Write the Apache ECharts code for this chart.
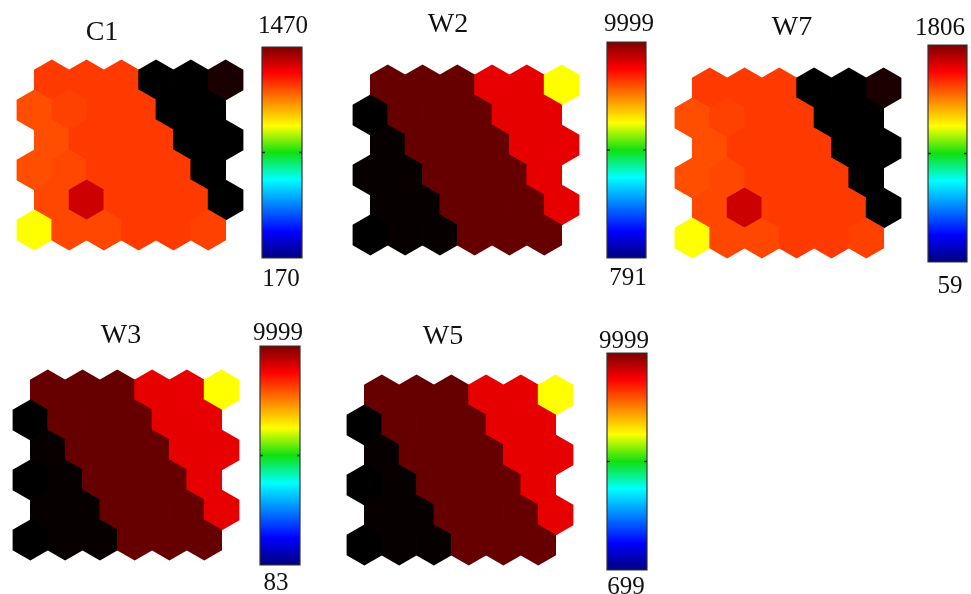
<!DOCTYPE html>
<html>
<head>
<meta charset="utf-8">
<script src="https://cdn.jsdelivr.net/npm/echarts@6/dist/echarts.min.js"></script>
<style>
  html, body { margin: 0; padding: 0; background: #fff; }
  #main { width: 971px; height: 594px; }
</style>
</head>
<body>
<div id="main"></div>
<script>
// panel names and colour bar limits
var panelNames = ['C1', 'W2', 'W7', 'W3', 'W5'];
var barMax = ['1470', '9999', '1806', '9999', '9999'];
var barMin = ['170', '791', '59', '83', '699'];

// cell values, 6 rows (top to bottom) x 6 columns, on a 0-100 "hot" scale
var valuesC1 = [
  [46, 46, 46, 0, 0, 4],
  [49, 47, 46, 46, 0, 0],
  [49, 46, 46, 46, 0, 0],
  [49, 48, 46, 46, 46, 0],
  [48, 30, 46, 46, 46, 0],
  [75, 48, 48, 46, 46, 47]
];
var valuesW2 = [
  [15, 15, 15, 34, 34, 75],
  [0, 15, 15, 15, 34, 34],
  [1, 15, 15, 15, 34, 34],
  [1, 1, 15, 15, 15, 34],
  [1, 1, 15, 15, 15, 34],
  [0, 1, 1, 15, 15, 15]
];
var valuesW7 = [
  [46, 46, 46, 0, 0, 4],
  [49, 47, 46, 46, 0, 0],
  [49, 46, 46, 46, 0, 0],
  [49, 48, 46, 46, 46, 0],
  [48, 30, 46, 46, 46, 0],
  [75, 48, 48, 46, 46, 47]
];
var valuesW3 = [
  [15, 15, 15, 34, 34, 75],
  [0, 15, 15, 15, 34, 34],
  [1, 15, 15, 15, 34, 34],
  [0, 1, 15, 15, 15, 34],
  [1, 1, 15, 15, 15, 34],
  [0, 1, 1, 15, 15, 15]
];
var valuesW5 = [
  [15, 15, 15, 34, 34, 75],
  [0, 15, 15, 15, 34, 34],
  [1, 15, 15, 15, 34, 34],
  [0, 1, 15, 15, 15, 34],
  [1, 1, 15, 15, 15, 34],
  [0, 1, 1, 15, 15, 15]
];
var panelValues = [valuesC1, valuesW2, valuesW7, valuesW3, valuesW5];

// layout (pixels)
var grids = [
  {left: 17, top: 60},
  {left: 353, top: 65},
  {left: 675, top: 68},
  {left: 13, top: 370},
  {left: 347, top: 375}
];
var titlePos = [[102, 33], [448, 25], [792, 28], [121, 336], [443, 337]];
var bars = [
  {x: 262, y: 47, w: 40, h: 211, top: [283, 26], bottom: [281, 279]},
  {x: 607, y: 42, w: 39, h: 216, top: [629, 24], bottom: [628, 278]},
  {x: 928, y: 45, w: 39, h: 217, top: [940, 28], bottom: [950, 286]},
  {x: 260, y: 346, w: 40, h: 219, top: [278, 333], bottom: [276, 583]},
  {x: 607, y: 353, w: 40, h: 217, top: [624, 341], bottom: [626, 587]}
];

var hotColors = ['#000000', '#550000', '#aa0000', '#ff0000', '#ff5500',
                 '#ffaa00', '#ffff00', '#ffff80', '#ffffff'];
var jetStops = [
  {offset: 0, color: '#7a0000'},
  {offset: 0.125, color: '#ff0000'},
  {offset: 0.375, color: '#ffff00'},
  {offset: 0.5, color: '#10e010'},
  {offset: 0.625, color: '#00ffff'},
  {offset: 0.875, color: '#0000ff'},
  {offset: 1, color: '#00007a'}
];

var chart = echarts.init(document.getElementById('main'));

function hexData(vals) {
  var out = [];
  vals.forEach(function (row, r) {
    row.forEach(function (v, c) {
      // odd rows sit half a cell to the left
      out.push([c + (r % 2 === 0 ? 1 : 0.5), r, v]);
    });
  });
  return out;
}

function renderHex(params, api) {
  var p = api.coord([api.value(0), api.value(1)]);
  var s = api.size([1, 1]);
  // a tiny overlap hides the seams between cells
  var hw = s[0] / 2 + 0.4;
  var R = s[1] / 0.75 / 2 + 0.4;
  return {
    type: 'polygon',
    shape: {
      points: [
        [p[0], p[1] - R], [p[0] + hw, p[1] - R / 2], [p[0] + hw, p[1] + R / 2],
        [p[0], p[1] + R], [p[0] - hw, p[1] + R / 2], [p[0] - hw, p[1] - R / 2]
      ]
    },
    style: {fill: api.visual('color'), stroke: null, lineWidth: 0}
  };
}

var gridOpt = [], xAxes = [], yAxes = [], series = [], graphics = [];
panelNames.forEach(function (name, i) {
  gridOpt.push({left: grids[i].left, top: grids[i].top, width: 226, height: 190});
  xAxes.push({type: 'value', gridIndex: i, min: 0, max: 6.5, show: false});
  yAxes.push({type: 'value', gridIndex: i, min: -2 / 3, max: 5 + 2 / 3, inverse: true, show: false});
  series.push({
    type: 'custom',
    xAxisIndex: i,
    yAxisIndex: i,
    renderItem: renderHex,
    encode: {x: 0, y: 1},
    data: hexData(panelValues[i]),
    silent: true
  });

  graphics.push({
    type: 'text',
    x: titlePos[i][0], y: titlePos[i][1],
    style: {text: name, font: '28px "Liberation Serif"', fill: '#111',
            textAlign: 'center', textVerticalAlign: 'middle'}
  });
  var b = bars[i];
  graphics.push({
    type: 'rect',
    shape: {x: b.x, y: b.y, width: b.w, height: b.h},
    style: {
      fill: new echarts.graphic.LinearGradient(0, 0, 0, 1, jetStops),
      stroke: '#333', lineWidth: 1.2
    }
  });
  graphics.push({
    type: 'line',
    shape: {x1: b.x, y1: b.y + b.h / 2, x2: b.x + 3, y2: b.y + b.h / 2},
    style: {stroke: '#222', lineWidth: 1.5}
  });
  graphics.push({
    type: 'line',
    shape: {x1: b.x + b.w - 3, y1: b.y + b.h / 2, x2: b.x + b.w, y2: b.y + b.h / 2},
    style: {stroke: '#222', lineWidth: 1.5}
  });
  graphics.push({
    type: 'text',
    x: b.top[0], y: b.top[1],
    style: {text: barMax[i], font: '25px "Liberation Serif"', fill: '#111',
            textAlign: 'center', textVerticalAlign: 'middle'}
  });
  graphics.push({
    type: 'text',
    x: b.bottom[0], y: b.bottom[1],
    style: {text: barMin[i], font: '25px "Liberation Serif"', fill: '#111',
            textAlign: 'center', textVerticalAlign: 'middle'}
  });
});

var option = {
  backgroundColor: '#ffffff',
  animation: false,
  grid: gridOpt,
  xAxis: xAxes,
  yAxis: yAxes,
  visualMap: {
    show: false,
    type: 'continuous',
    min: 0,
    max: 100,
    dimension: 2,
    seriesIndex: [0, 1, 2, 3, 4],
    inRange: {color: hotColors}
  },
  graphic: graphics,
  series: series
};

chart.setOption(option);
</script>
</body>
</html>
